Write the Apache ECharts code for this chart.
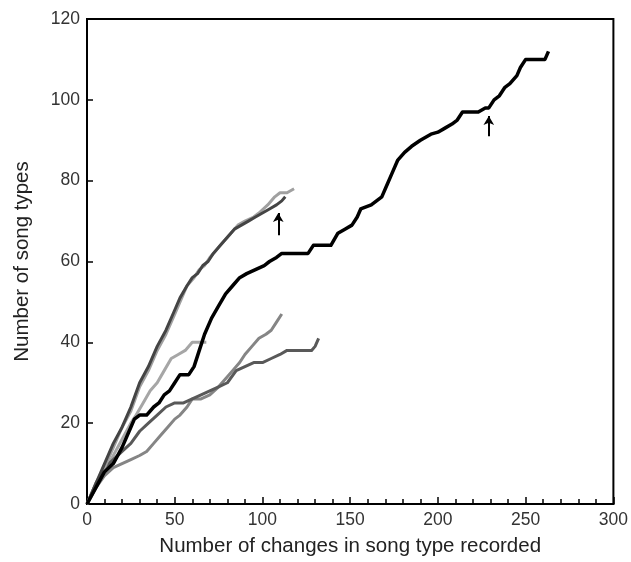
<!DOCTYPE html>
<html>
<head>
<meta charset="utf-8">
<script src="https://cdn.jsdelivr.net/npm/echarts@6/dist/echarts.min.js"></script>
<style>
  html, body { margin: 0; padding: 0; background: #fff; }
  #main { width: 631px; height: 562px; }
</style>
</head>
<body>
<div id="main"></div>
<script>
// data: [changes recorded, song types]
var birdBlack = [[0,0],[5,4],[10,8],[15,10],[20,14],[24,18],[27,21],[30,22],[34,22],[38,24],[41,25],[44,27],[47,28],[50,30],[53,32],[58,32],[61,34],[64,38],[67,42],[71,46],[75,49],[79,52],[83,54],[87,56],[91,57],[96,58],[101,59],[104,60],[108,61],[111,62],[120,62],[126,62],[129,64],[139,64],[143,67],[147,68],[151,69],[154,71],[156,73],[162,74],[165,75],[168,76],[171,79],[174,82],[177,85],[181,87],[185,88.5],[190,90],[196,91.5],[200,92],[204,93],[208,94],[211,95],[214,97],[223,97],[227,98],[229,98],[232,100],[235,101],[238,103],[241,104],[245,106],[247,108],[250,110],[261,110],[263,112]];
var birdA = [[0,0],[5,5],[10,10],[15,15],[20,19],[25,24],[30,30],[35,34],[40,39],[45,43],[50,48],[53,51],[57,54],[60,56],[63,57],[66,59],[69,60],[72,62],[76,64],[80,66],[84,68],[88,69],[92,70],[96,71],[100,72],[104,73],[108,74],[111,75],[113,76]];
var birdB = [[0,0],[5,5],[10,9],[15,14],[20,19],[25,23],[30,29],[35,33],[40,38],[45,42],[50,47],[54,51],[57,54],[61,56],[64,58],[67,59],[70,61],[74,63],[78,65],[82,67],[86,69],[90,70],[95,71],[98,72],[103,74],[107,76],[110,77],[114,77],[118,78]];
var birdC = [[0,0],[5,4],[10,7],[15,9],[20,10],[25,11],[30,12],[34,13],[38,15],[42,17],[46,19],[50,21],[53,22],[57,24],[60,26],[65,26],[70,27],[75,29],[79,31],[83,33],[87,35],[90,37],[94,39],[98,41],[102,42],[105,43],[108,45],[111,47]];
var birdD = [[0,0],[5,5],[10,9],[15,11],[20,13],[25,15],[30,18],[35,20],[40,22],[45,24],[50,25],[55,25],[60,26],[65,27],[70,28],[75,29],[80,30],[85,33],[90,34],[95,35],[100,35],[105,36],[110,37],[114,38],[122,38],[128,38],[130,39],[132,41]];
var birdE = [[0,0],[5,4],[10,8],[15,12],[20,16],[25,20],[28,22],[32,25],[36,28],[40,30],[44,33],[48,36],[52,37],[56,38],[60,40],[64,40],[68,40]];
// arrows marking points on curves: [x, from y, to y]
var arrows = [[109, 66.5, 72], [229, 91, 96]];

var xTicks = [0, 300, 50];
var yTicks = [0, 120, 20];

var font = "'Liberation Sans', Arial, sans-serif";
var chart = echarts.init(document.getElementById('main'));

function line(data, color, width, z) {
  return {
    type: 'line',
    data: data,
    showSymbol: false,
    symbol: 'none',
    z: z,
    lineStyle: { color: color, width: width, join: 'round' },
    animation: false
  };
}

var series = [
  line(birdE, '#a6a6a6', 3, 2),
  line(birdC, '#858585', 3, 3),
  line(birdD, '#595959', 3, 4),
  line(birdB, '#a0a0a0', 3, 5),
  line(birdA, '#444444', 3, 6),
  line(birdBlack, '#000000', 3.5, 7)
];

series[5].markLine = {
  silent: true,
  symbol: ['none', 'arrow'],
  symbolSize: [8, 9],
  label: { show: false },
  lineStyle: { color: '#000', width: 2, type: 'solid' },
  data: arrows.map(function (a) {
    return [{ coord: [a[0], a[1]] }, { coord: [a[0], a[2]] }];
  })
};

chart.setOption({
  backgroundColor: '#fff',
  animation: false,
  grid: {
    left: 87, right: 14, top: 19, bottom: 56,
    show: true, borderColor: '#000', borderWidth: 2
  },
  xAxis: {
    type: 'value',
    min: xTicks[0], max: xTicks[1], interval: xTicks[2],
    name: 'Number of changes in song type recorded',
    nameLocation: 'middle',
    nameGap: 32,
    nameTextStyle: { fontFamily: font, fontSize: 20.5, color: '#222' },
    axisLine: { lineStyle: { color: '#000', width: 2 } },
    axisTick: { inside: true, length: 7, lineStyle: { color: '#000', width: 1.5 } },
    minorTick: { show: true, splitNumber: 5, length: 5, lineStyle: { color: '#000', width: 1.5 } },
    axisLabel: { fontFamily: font, fontSize: 17.5, color: '#333', margin: 7 },
    splitLine: { show: false }
  },
  yAxis: {
    type: 'value',
    min: yTicks[0], max: yTicks[1], interval: yTicks[2],
    name: 'Number of song types',
    nameLocation: 'middle',
    nameGap: 54,
    nameTextStyle: { fontFamily: font, fontSize: 20.5, color: '#222' },
    axisLine: { show: true, lineStyle: { color: '#000', width: 2 } },
    axisTick: { show: true, inside: true, length: 6, lineStyle: { color: '#000', width: 1.5 } },
    axisLabel: { fontFamily: font, fontSize: 17.5, color: '#333', margin: 7 },
    splitLine: { show: false }
  },
  series: series
});
</script>
</body>
</html>
